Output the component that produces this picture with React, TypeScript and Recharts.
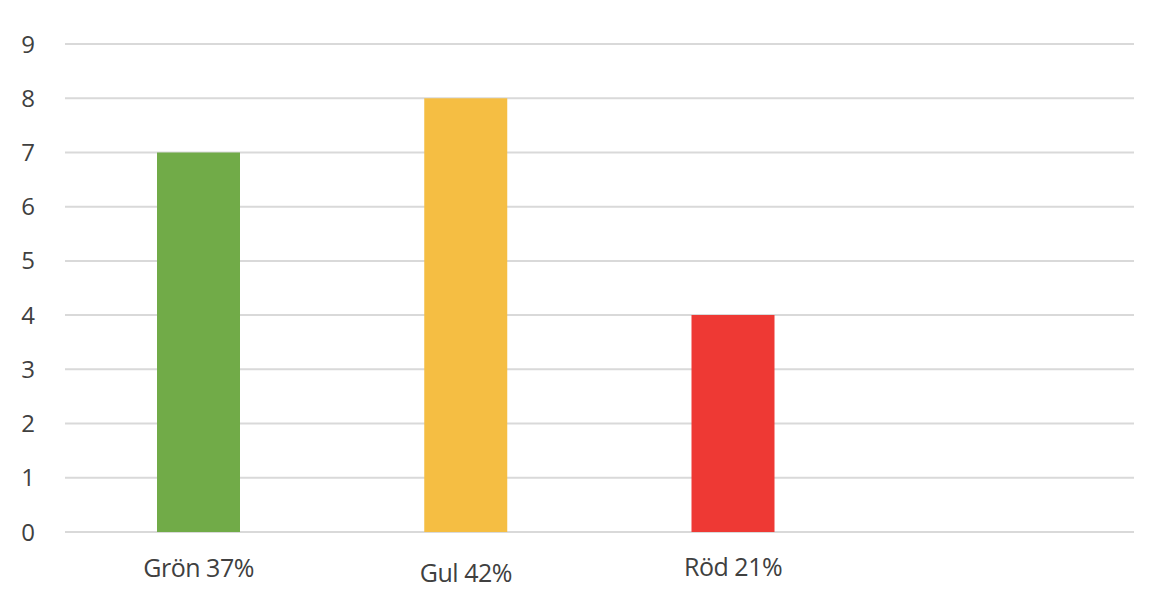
import { BarChart, Bar, XAxis, YAxis, CartesianGrid, Cell } from "recharts";

const categories = ["Grön 37%", "Gul 42%", "Röd 21%", ""];
const counts = [7, 8, 4, null];
const yTicks = [0, 1, 2, 3, 4, 5, 6, 7, 8, 9];

const colors = ["#71ab48", "#f5be43", "#ee3934", "#ffffff"];
const labelShift = [0, 5, -1, 0];

const data = categories.map((name, i) => ({ name, value: counts[i] }));

const CategoryTick = (props: any) => {
  const { x, y, payload, index } = props;
  return (
    <text
      x={x}
      y={y + 37 + (labelShift[index] ?? 0)}
      textAnchor="middle"
      fill="#404040"
      fontSize={25}
      fontFamily="Open Sans, sans-serif"
      letterSpacing={-0.5}
    >
      {payload.value}
    </text>
  );
};

const App = () => {
  return (
    <div style={{ position: "absolute", left: 0, top: 0, background: "#fff" }}>
      <BarChart
        width={1167}
        height={589}
        data={data}
        margin={{ top: 44, right: 33, bottom: 0, left: 0 }}
      >
        <CartesianGrid
          vertical={false}
          stroke="#d9d9d9"
          strokeWidth={2}
        />
        <XAxis
          dataKey="name"
          axisLine={false}
          tickLine={false}
          height={57}
          interval={0}
          tick={<CategoryTick />}
        />
        <YAxis
          domain={[0, 9]}
          ticks={yTicks}
          axisLine={false}
          tickLine={false}
          width={65}
          tick={{ fill: "#404040", fontSize: 24, fontFamily: "Open Sans, sans-serif", dx: -22 }}
        />
        <Bar dataKey="value" barSize={83} isAnimationActive={false}>
          {data.map((d, i) => (
            <Cell key={d.name + i} fill={colors[i]} />
          ))}
        </Bar>
      </BarChart>
    </div>
  );
};

export default App;
